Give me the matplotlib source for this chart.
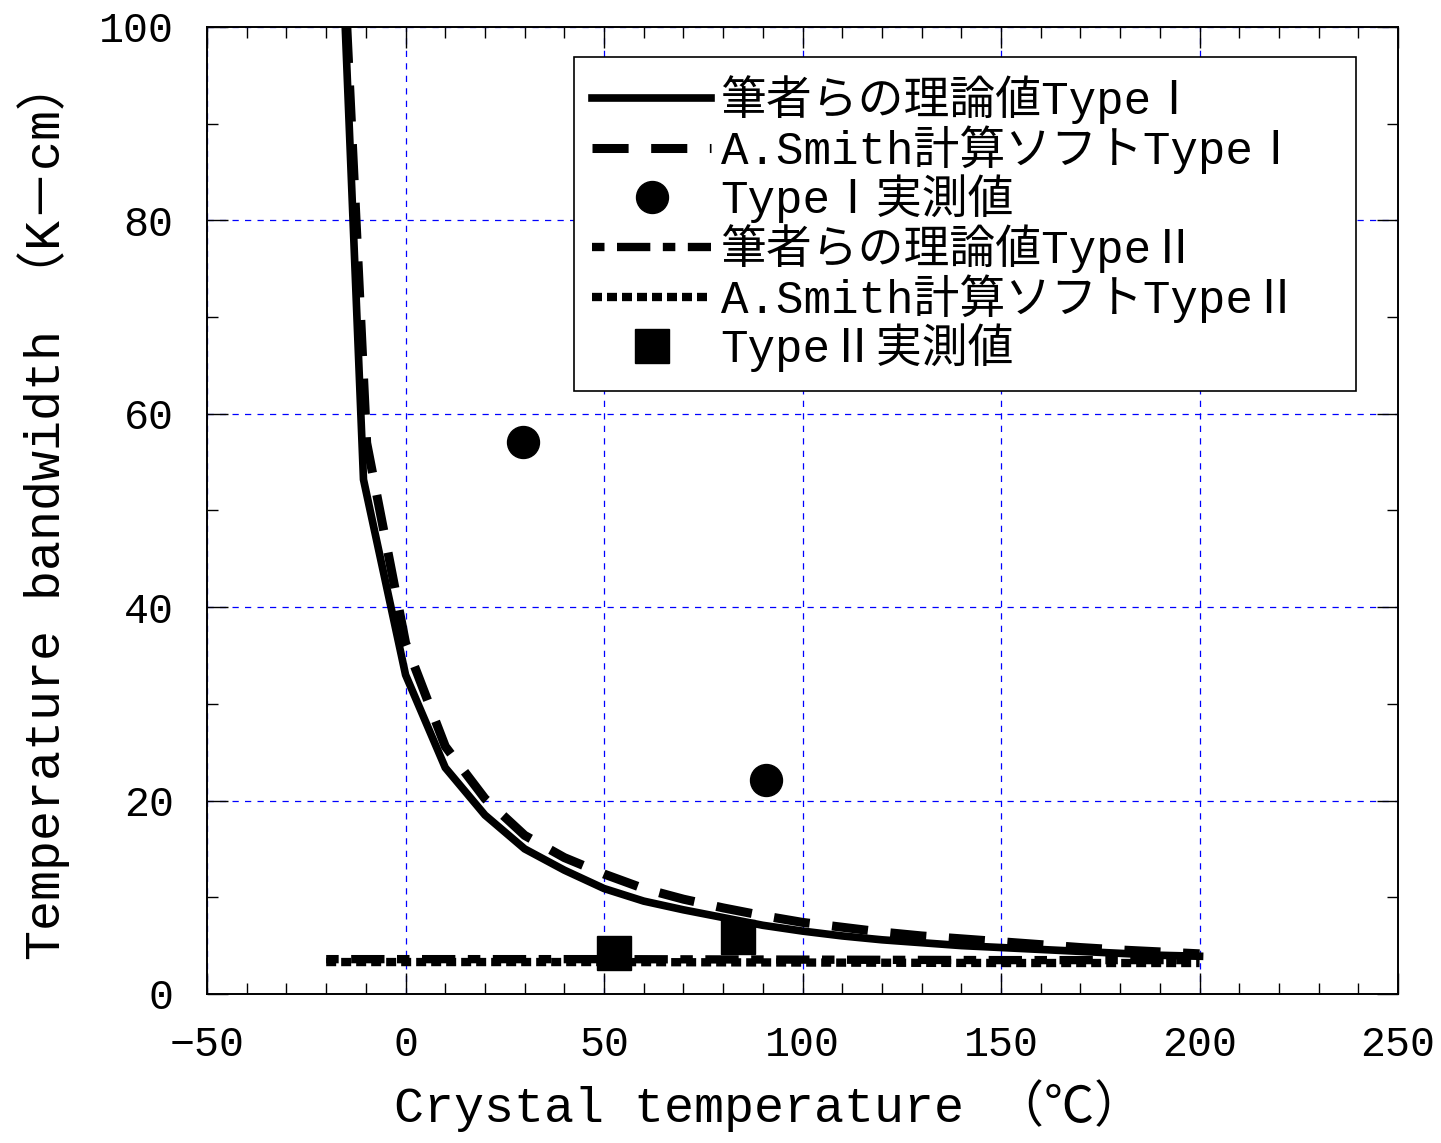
import matplotlib
matplotlib.use("Agg")
import matplotlib.pyplot as plt
from matplotlib.ticker import MultipleLocator

plt.rcParams['font.family'] = ['Liberation Mono', 'Noto Sans CJK JP']

# Type I theory (authors)
t1_theory_x = [-15.2, -10.6, 0, 10, 20, 30, 40, 50, 60, 70, 80, 90, 100,
               110, 120, 130, 140, 150, 160, 170, 180, 190, 200]
t1_theory_y = [100, 53.2, 33.0, 23.4, 18.5, 15.0, 12.8, 10.9, 9.6, 8.7, 7.9, 7.1, 6.5,
               6.0, 5.6, 5.3, 5.0, 4.8, 4.6, 4.4, 4.2, 4.0, 3.9]

# Type I, A.Smith software
t1_smith_x = [-14.8, -9.8, 0, 10, 20, 30, 40, 50, 60, 70, 80, 90, 100,
              110, 120, 130, 140, 150, 160, 170, 180, 190, 200]
t1_smith_y = [100, 57.0, 36.3, 25.6, 20.2, 16.4, 14.1, 12.4, 10.9, 9.8, 8.9, 8.1, 7.4,
              6.9, 6.4, 6.0, 5.7, 5.4, 5.1, 4.8, 4.55, 4.35, 4.15]

# Type I measured
t1_meas_x = [29.6, 90.8]
t1_meas_y = [57.1, 22.1]

# Type II theory and A.Smith software
t2_theory_x = [-20, 50, 100, 150, 200]
t2_theory_y = [3.6, 3.6, 3.55, 3.5, 3.5]
t2_smith_x = [-20, 50, 100, 150, 200]
t2_smith_y = [3.3, 3.3, 3.25, 3.2, 3.2]

# Type II measured
t2_meas_x = [52.4, 83.8]
t2_meas_y = [4.2, 5.9]

labels = ['筆者らの理論値TypeⅠ', 'A.Smith計算ソフトTypeⅠ', 'TypeⅠ実測値',
          '筆者らの理論値TypeⅡ', 'A.Smith計算ソフトTypeⅡ', 'TypeⅡ実測値']

fig = plt.figure(figsize=(14.41, 11.43), dpi=100)
ax = fig.add_axes([0.1437, 0.1304, 0.8265, 0.846])

ax.plot(t1_theory_x, t1_theory_y, color='black', lw=5.5, label=labels[0],
        solid_joinstyle='miter', zorder=4)
ax.plot(t1_smith_x, t1_smith_y, color='black', lw=6.5, ls=(0, (4, 2.5)),
        label=labels[1], dash_capstyle='butt', zorder=4)
ax.plot(t1_meas_x, t1_meas_y, 'o', color='black', ms=23, label=labels[2], zorder=5)
ax.plot(t2_theory_x, t2_theory_y, color='black', lw=6, ls=(0, (1.5, 1.5, 4, 1.5)),
        label=labels[3], dash_capstyle='butt', zorder=4)
ax.plot(t2_smith_x, t2_smith_y, color='black', lw=6, ls=(0, (1.2, 0.6)),
        label=labels[4], dash_capstyle='butt', zorder=4)
ax.plot(t2_meas_x, t2_meas_y, 's', color='black', ms=25, label=labels[5], zorder=5)

# Configure axes
ax.set_xlim(-50, 250)
ax.set_ylim(0, 100)
ax.xaxis.set_major_locator(MultipleLocator(50))
ax.xaxis.set_minor_locator(MultipleLocator(10))
ax.yaxis.set_major_locator(MultipleLocator(20))
ax.yaxis.set_minor_locator(MultipleLocator(10))
ax.tick_params(which='both', direction='in', top=True, right=True, width=1.0)
ax.tick_params(which='major', length=15)
ax.tick_params(which='minor', length=8)
ax.tick_params(axis='x', which='major', labelsize=30, pad=22)
ax.tick_params(axis='y', which='major', labelsize=30, pad=24)
ax.grid(True, which='major', color='blue', lw=0.9, ls=(0, (5, 5)))
for sp in ax.spines.values():
    sp.set_linewidth(1.4)

ax.set_xlabel('Crystal temperature （℃）', fontsize=36)
ax.xaxis.set_label_coords(0.472, -0.088)
ax.set_ylabel('Temperature bandwidth （K－cm）', fontsize=36)
ax.yaxis.set_label_coords(-0.115, 0.5)

leg = ax.legend(loc='upper left', bbox_to_anchor=(0.308, 0.6, 0.657, 0.369),
                mode='expand', borderaxespad=0,
                fontsize=33, handlelength=2.6, handletextpad=0.2, labelspacing=0.02,
                borderpad=0.4, fancybox=False, framealpha=1, edgecolor='black')
leg.get_frame().set_linewidth(1.2)

fig.savefig('out.png', dpi=100)
